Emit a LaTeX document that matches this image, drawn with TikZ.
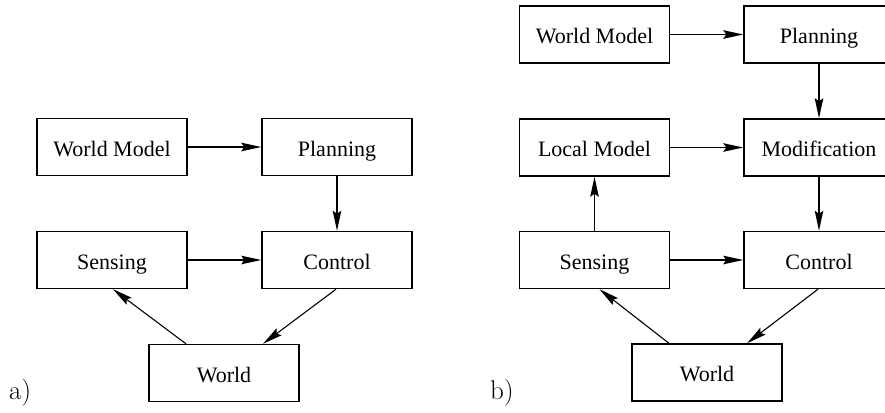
\documentclass[tikz,border=0pt]{standalone}
\usepackage{fontspec}
\newfontfamily\boxfont{Liberation Serif}
\usetikzlibrary{arrows.meta,calc}
\begin{document}
\begin{tikzpicture}[x=1pt,y=-1pt,
  blk/.style={draw, line width=1.4pt, minimum width=150pt, minimum height=57pt, inner sep=0pt,
     text height=18pt, text depth=0pt,
     font=\boxfont\fontsize{22}{24}\selectfont},
  arr/.style={line width=1.6pt, -{Stealth[length=20pt,width=8.5pt,inset=3pt]}},
  darr/.style={line width=1.1pt, -{Stealth[length=20pt,width=8.5pt,inset=3pt]}},
  lbl/.style={font=\fontsize{27}{30}\selectfont, inner sep=0pt, anchor=base west}]
\clip (0,0) rectangle (885,412);
\fill[white] (0,0) rectangle (885,412);
% a)
\node[blk] (WM1) at (112,147) {World Model};
\node[blk] (Pl1) at (337,147) {Planning};
\node[blk] (Se1) at (112,260) {Sensing};
\node[blk] (Co1) at (337,260) {Control};
\node[blk] (Wo1) at (224,373) {World};
\node[lbl] (la) at (9,399) {a)};
\draw[arr] (WM1) -- (Pl1);
\draw[arr] (Pl1) -- (Co1);
\draw[arr] (Se1) -- (Co1);
\draw[darr] ([xshift=-38pt]Wo1.north) -- ([xshift=1pt]Se1.south);
\draw[darr] ([xshift=-1pt]Co1.south) -- ([xshift=39pt]Wo1.north);
% b)
\node[blk] (WM2) at (594.5,34.5) {World Model};
\node[blk] (Pl2) at (819,34.5) {Planning};
\node[blk] (LM2) at (594.5,147.5) {Local Model};
\node[blk] (Mo2) at (819,147.5) {Modification};
\node[blk] (Se2) at (594.5,260) {Sensing};
\node[blk] (Co2) at (819,260) {Control};
\node[blk] (Wo2) at (707,372.5) {World};
\node[lbl] (lb) at (490,399) {b)};
\draw[arr] (WM2) -- (Pl2);
\draw[arr] (Pl2) -- (Mo2);
\draw[arr] (LM2) -- (Mo2);
\draw[arr] (Mo2) -- (Co2);
\draw[arr] (Se2) -- (LM2);
\draw[arr] (Se2) -- (Co2);
\draw[darr] ([xshift=-38pt]Wo2.north) -- ([xshift=5pt]Se2.south);
\draw[darr] ([xshift=-1pt]Co2.south) -- ([xshift=40pt]Wo2.north);
\end{tikzpicture}
\end{document}
